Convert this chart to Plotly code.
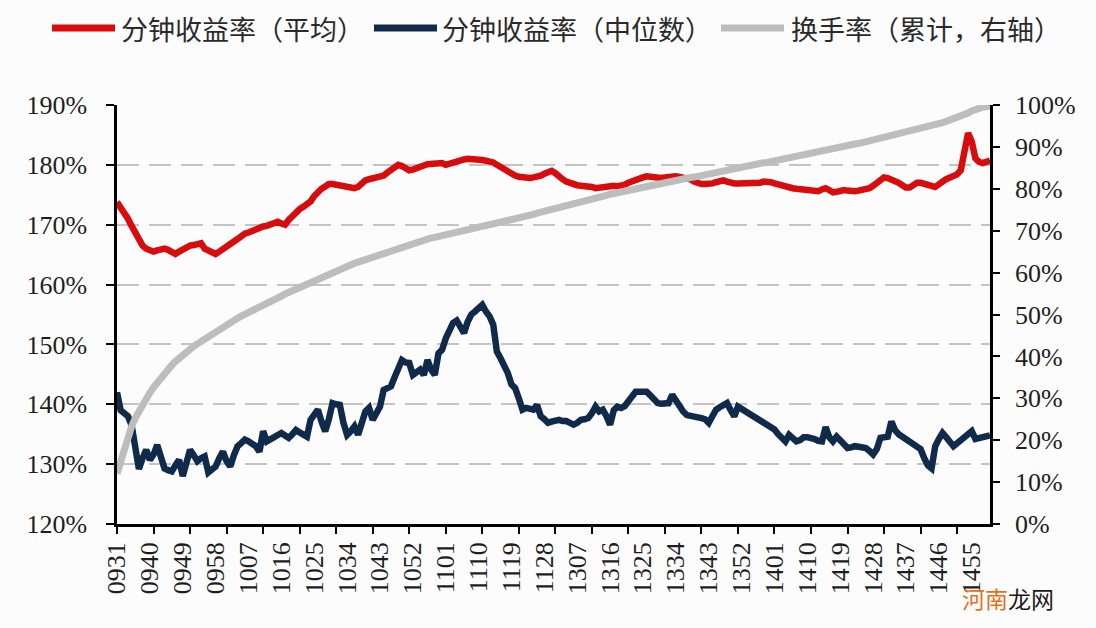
import plotly.graph_objects as go

# ---------------- data ----------------
SERIES_NAMES = ["分钟收益率（平均）", "分钟收益率（中位数）", "换手率（累计，右轴）"]

# trading minutes 09:31-11:30 and 13:01-15:00
CATEGORIES = [f"{h:02d}{m:02d}" for h, m in
              [(9 + (30 + k) // 60, (30 + k) % 60) for k in range(1, 121)] +
              [(13 + (k) // 60, k % 60) for k in range(1, 121)]]

TICK_LABELS = ["0931", "0940", "0949", "0958", "1007", "1016", "1025", "1034",
               "1043", "1052", "1101", "1110", "1119", "1128", "1307", "1316",
               "1325", "1334", "1343", "1352", "1401", "1410", "1419", "1428",
               "1437", "1446", "1455"]

RET_MEAN = [
    173.8, 173.0, 172.0, 171.0, 169.8, 168.5, 167.2, 166.5, 166.0, 165.6,
    165.5, 165.7, 166.0, 166.0, 165.8, 165.3, 165.1, 165.5, 165.9, 166.2,
    166.5, 166.6, 166.8, 166.9, 166.0, 165.7, 165.3, 165.1, 165.5, 166.0,
    166.5, 166.8, 167.2, 167.6, 168.2, 168.5, 168.7, 169.0, 169.2, 169.4,
    169.7, 169.8, 170.1, 170.4, 170.5, 170.2, 170.0, 170.8, 171.5, 172.0,
    172.6, 173.0, 173.5, 173.9, 174.8, 175.6, 176.0, 176.4, 176.8, 176.8,
    176.7, 176.7, 176.6, 176.5, 176.3, 176.1, 176.3, 176.9, 177.4, 177.6,
    177.7, 177.8, 178.0, 178.2, 178.7, 179.2, 179.7, 180.0, 179.8, 179.4,
    179.1, 179.2, 179.5, 179.7, 179.9, 180.1, 180.2, 180.3, 180.4, 180.3,
    180.0, 180.2, 180.5, 180.6, 180.7, 180.9, 181.0, 181.0, 180.9, 180.9,
    180.8, 180.7, 180.6, 180.4, 180.0, 179.6, 179.1, 178.8, 178.5, 178.2,
    178.0, 177.9, 177.8, 177.8, 177.9, 178.0, 178.2, 178.5, 178.8, 179.0,
    178.6, 178.0, 177.6, 177.2, 176.9, 176.6, 176.6, 176.5, 176.5, 176.5,
    176.3, 176.1, 176.2, 176.4, 176.5, 176.5, 176.5, 176.4, 176.5, 176.7,
    177.0, 177.3, 177.4, 177.6, 177.9, 178.1, 178.0, 177.8, 177.8, 177.8,
    177.9, 178.0, 178.1, 178.1, 178.0, 177.9, 177.9, 177.6, 177.2, 176.9,
    176.8, 176.8, 176.8, 176.9, 177.1, 177.3, 177.4, 177.2, 177.0, 176.9,
    176.9, 176.9, 176.8, 176.8, 176.8, 176.9, 177.0, 177.2, 177.2, 177.1,
    176.9, 176.7, 176.5, 176.4, 176.3, 176.1, 176.0, 175.9, 175.8, 175.7,
    175.6, 175.5, 175.6, 175.9, 176.1, 175.8, 175.4, 175.5, 175.7, 175.8,
    175.7, 175.6, 175.6, 175.7, 175.8, 176.0, 176.1, 176.5, 176.9, 177.6,
    177.9, 177.8, 177.6, 177.4, 177.0, 176.6, 176.2, 176.2, 176.6, 177.0,
    177.0, 176.9, 176.8, 176.5, 176.3, 176.6, 177.2, 177.6, 177.8, 178.0,
    178.4, 179.1, 182.8, 185.3, 183.9, 181.1, 180.5, 180.3, 180.5, 180.7,
]

RET_MEDIAN = [
    142.0, 139.0, 138.5, 138.0, 136.5, 132.0, 129.2, 131.0, 132.4, 130.7,
    131.6, 133.2, 131.5, 129.3, 129.0, 128.8, 129.8, 130.7, 128.0, 130.5,
    132.4, 131.5, 130.5, 131.0, 131.3, 128.6, 129.0, 129.6, 131.0, 132.1,
    130.5, 129.6, 131.5, 133.0, 133.5, 134.1, 133.8, 133.5, 133.0, 132.1,
    135.5, 133.8, 134.2, 134.6, 135.0, 135.2, 134.8, 134.4, 135.0, 135.7,
    135.3, 135.0, 134.6, 137.4, 138.5, 139.1, 137.1, 135.5, 137.5, 140.2,
    140.0, 139.9, 136.9, 134.9, 135.5, 136.3, 134.9, 136.5, 138.8, 139.4,
    137.4, 138.5, 139.6, 142.4, 142.8, 143.0, 144.5, 145.8, 147.4, 147.0,
    146.9, 144.9, 145.5, 145.8, 144.9, 147.4, 145.8, 144.9, 148.5, 149.1,
    151.0, 152.7, 153.6, 154.0, 153.0, 151.9, 153.8, 155.0, 155.5, 156.2,
    156.6, 155.5, 154.7, 153.3, 148.8, 147.7, 146.5, 145.2, 143.3, 142.7,
    141.0, 139.1, 139.4, 139.2, 139.1, 139.9, 138.0, 137.5, 136.9, 137.1,
    137.3, 137.4, 137.2, 137.2, 136.9, 136.6, 136.9, 137.4, 137.5, 137.7,
    138.5, 139.6, 138.8, 139.1, 138.0, 136.6, 139.0, 139.6, 139.4, 139.7,
    140.5, 141.5, 142.1, 142.1, 142.0, 142.1, 141.5, 140.8, 140.2, 140.1,
    140.1, 140.2, 141.6, 140.5, 139.4, 138.8, 138.2, 138.1, 138.1, 137.9,
    137.7, 137.5, 136.9, 138.0, 139.1, 139.5, 139.8, 140.2, 139.0, 138.0,
    139.6, 139.2, 138.8, 138.5, 138.0, 137.5, 137.1, 136.8, 136.5, 136.2,
    135.8, 135.0, 134.2, 133.8, 134.9, 134.5, 133.8, 134.0, 134.5, 134.5,
    134.4, 134.2, 133.9, 133.8, 136.2, 134.5, 133.8, 134.6, 134.0, 133.2,
    132.7, 132.8, 133.0, 132.9, 132.9, 132.7, 132.2, 131.6, 132.5, 134.4,
    134.5, 134.6, 137.1, 135.7, 135.0, 134.6, 134.0, 133.5, 133.2, 133.0,
    132.5, 131.0, 129.8, 129.3, 133.0, 134.2, 135.2, 134.5, 133.5, 133.0,
    133.5, 134.0, 134.2, 134.8, 135.5, 134.2, 134.3, 134.4, 134.6, 134.8,
]

TURNOVER_CUM = [
    12.0, 15.2, 18.0, 21.0, 23.3, 25.3, 27.0, 28.6, 30.0, 31.3,
    32.6, 33.8, 34.9, 36.1, 37.0, 37.9, 38.8, 39.6, 40.3, 41.0,
    41.7, 42.4, 43.0, 43.6, 44.2, 44.8, 45.4, 46.0, 46.6, 47.2,
    47.8, 48.2, 48.7, 49.1, 49.6, 50.0, 50.4, 50.8, 51.2, 51.7,
    52.3, 52.7, 53.1, 53.6, 54.0, 54.4, 54.9, 55.3, 55.8, 56.2,
    56.6, 57.0, 57.4, 57.8, 58.1, 58.5, 58.8, 59.2, 59.6, 59.9,
    60.3, 60.7, 61.1, 61.5, 61.9, 62.2, 62.5, 62.8, 63.1, 63.4,
    63.7, 64.0, 64.3, 64.6, 65.0, 65.3, 65.6, 65.9, 66.3, 66.6,
    66.9, 67.2, 67.4, 67.7, 67.9, 68.1, 68.3, 68.4, 68.6, 68.7,
    68.9, 69.0, 69.2, 69.4, 69.6, 69.8, 70.0, 70.2, 70.5, 70.7,
    70.9, 71.1, 71.4, 71.6, 71.8, 72.0, 72.2, 72.4, 72.6, 72.8,
    73.1, 73.3, 73.5, 73.7, 73.9, 74.2, 74.4, 74.6, 74.8, 75.0,
    75.3, 75.5, 75.7, 76.0, 76.2, 76.4, 76.6, 76.9, 77.1, 77.3,
    77.5, 77.8, 78.0, 78.2, 78.4, 78.7, 78.9, 79.1, 79.3, 79.5,
    79.7, 79.9, 80.1, 80.3, 80.5, 80.7, 80.9, 81.1, 81.3, 81.4,
    81.6, 81.8, 81.9, 82.1, 82.2, 82.4, 82.5, 82.7, 82.8, 83.0,
    83.1, 83.3, 83.4, 83.6, 83.7, 83.9, 84.1, 84.2, 84.4, 84.6,
    84.8, 85.0, 85.2, 85.4, 85.6, 85.8, 86.0, 86.2, 86.3, 86.5,
    86.7, 86.9, 87.0, 87.2, 87.4, 87.6, 87.8, 87.9, 88.1, 88.3,
    88.5, 88.6, 88.8, 89.0, 89.2, 89.4, 89.6, 89.7, 89.9, 90.1,
    90.3, 90.5, 90.7, 90.8, 91.0, 91.2, 91.4, 91.6, 91.8, 92.0,
    92.2, 92.4, 92.6, 92.8, 93.1, 93.3, 93.5, 93.7, 93.9, 94.1,
    94.3, 94.6, 94.8, 95.0, 95.3, 95.5, 95.8, 96.1, 96.4, 96.6,
    96.9, 97.3, 97.7, 98.1, 98.6, 99.0, 99.3, 99.5, 99.6, 99.7,
]

LEFT_TICKS = [120, 130, 140, 150, 160, 170, 180, 190]
RIGHT_TICKS = [0, 10, 20, 30, 40, 50, 60, 70, 80, 90, 100]

# ---------------- styling ----------------
RED = "#D80C0C"
NAVY = "#102A4C"
GREY = "#BDBDBD"
TXT = "#1E1E1E"
SERIF = "Liberation Serif"
CJK = "Noto Sans CJK SC"

x_idx = list(range(len(CATEGORIES)))
tick_pos = [CATEGORIES.index(t) for t in TICK_LABELS]

fig = go.Figure()
fig.add_trace(go.Scatter(x=x_idx, y=RET_MEAN, mode="lines", name=SERIES_NAMES[0],
                         line=dict(color=RED, width=6.5), showlegend=False))
fig.add_trace(go.Scatter(x=x_idx, y=RET_MEDIAN, mode="lines", name=SERIES_NAMES[1],
                         line=dict(color=NAVY, width=6.5), showlegend=False))
fig.add_trace(go.Scatter(x=x_idx, y=TURNOVER_CUM, mode="lines", name=SERIES_NAMES[2],
                         line=dict(color=GREY, width=7), yaxis="y2", showlegend=False))

fig.update_layout(
    width=1096, height=628,
    margin=dict(l=117, r=106, t=105, b=104),
    paper_bgcolor="#FCFCFD", plot_bgcolor="#FCFCFD",
    font=dict(family=SERIF, size=24, color=TXT),
    xaxis=dict(
        range=[0, len(CATEGORIES) - 1],
        tickmode="array", tickvals=tick_pos, ticktext=TICK_LABELS,
        tickangle=-90, ticks="", ticklabelstandoff=5,
        tickfont=dict(family=SERIF, size=26, color=TXT),
        showline=True, linecolor="black", linewidth=2.5,
        showgrid=False, zeroline=False,
        minor=dict(tickmode="array", tickvals=list(range(0, len(CATEGORIES), 10)),
                   ticks="outside", ticklen=7, tickwidth=2, tickcolor="black",
                   showgrid=False),
    ),
    yaxis=dict(
        range=[120, 190], tickmode="array", tickvals=LEFT_TICKS,
        ticktext=[f"{v}%" for v in LEFT_TICKS],
        ticks="outside", ticklen=8, tickwidth=2, tickcolor="black",
        ticklabelstandoff=14,
        tickfont=dict(family=SERIF, size=26, color=TXT),
        showline=True, linecolor="black", linewidth=2.5,
        showgrid=True, gridcolor="#C4C4C4", gridwidth=1.5, griddash="22px,10px",
        zeroline=False,
    ),
    yaxis2=dict(
        range=[0, 100], overlaying="y", side="right", tickmode="array",
        tickvals=RIGHT_TICKS, ticktext=[f"{v}%" for v in RIGHT_TICKS],
        ticks="outside", ticklen=7, tickwidth=2, tickcolor="black",
        ticklabelstandoff=10,
        tickfont=dict(family=SERIF, size=26, color=TXT),
        showline=True, linecolor="black", linewidth=2.5,
        showgrid=False, zeroline=False,
    ),
)

# ---------------- legend (drawn in paper space, top) ----------------
PW, PH, ML, MB = 873.0, 419.0, 117.0, 104.0
def px2x(px):
    return (px - ML) / PW
def py2y(py):
    return (628 - MB - py) / PH

legend_items = [
    (SERIES_NAMES[0], RED, 52, 115, 119),
    (SERIES_NAMES[1], NAVY, 374, 437, 440),
    (SERIES_NAMES[2], GREY, 721, 784, 789),
]
ly = py2y(28)
for name, col, x0, x1, tx in legend_items:
    fig.add_shape(type="line", xref="paper", yref="paper",
                  x0=px2x(x0), x1=px2x(x1), y0=ly, y1=ly,
                  line=dict(color=col, width=7))
    fig.add_annotation(xref="paper", yref="paper", x=px2x(tx), y=ly,
                       xanchor="left", yanchor="middle", showarrow=False,
                       text=name, font=dict(family=CJK, size=27, color="#2A2A2A"))

# watermark
fig.add_annotation(xref="paper", yref="paper", x=px2x(960), y=py2y(598),
                   xanchor="left", yanchor="middle", showarrow=False,
                   text="<span style='color:#E2701E'>河南</span>龙网",
                   font=dict(family=CJK, size=23, color="#1A1A1A"))

fig.write_html("out.html", config={"displayModeBar": False},
               post_script="document.body.style.margin='0';document.body.style.overflow='hidden';")
